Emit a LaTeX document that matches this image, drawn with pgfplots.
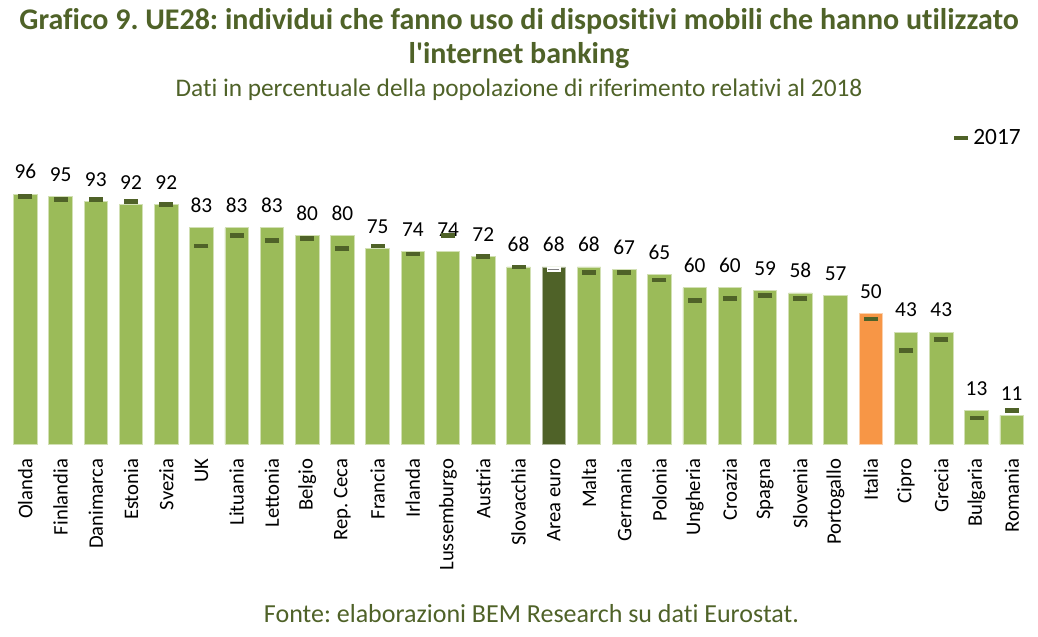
\documentclass[border=0pt]{standalone}
\usepackage{pgfplots}
\pgfplotsset{compat=1.18}
\usepackage{pgfplotstable}
\usepackage{fontspec}
\setmainfont{Carlito}[Ligatures={NoCommon,TeXOff}]
\frenchspacing
\definecolor{barg}{HTML}{9BBB59}
\definecolor{dkg}{HTML}{4F6228}
\definecolor{org}{HTML}{F79646}
\definecolor{ttl}{HTML}{4F6228}
\pgfplotstableread{
i v18 v17
0 96 95
1 95 94
2 93 94
3 92 93
4 92 92
5 83 76
6 83 80
7 83 78
8 80 79
9 80 75
10 75 76
11 74 73
12 74 80
13 72 72
14 68 68
15 68 nan
16 68 66
17 67 66
18 65 63
19 60 55
20 60 56
21 59 57
22 58 56
23 57 nan
24 50 48
25 43 36
26 43 40
27 13 10
28 11 13
}\datatab
\begin{document}
\begin{tikzpicture}
\path[use as bounding box] (0,0) rectangle (778.5pt,477pt);
\node[font=\fontsize{22.5}{26}\selectfont\bfseries, text=ttl] at (389.25pt,461pt) {Grafico 9. UE28: individui che fanno uso di dispositivi mobili che hanno utilizzato};
\node[font=\fontsize{22.5}{26}\selectfont\bfseries, text=ttl] at (389.25pt,435.5pt) {l'internet banking};
\node[font=\fontsize{19}{22}\selectfont, text=ttl] at (389.25pt,409.5pt) {Dati in percentuale della popolazione di riferimento relativi al 2018};
\node[font=\fontsize{19.5}{22}\selectfont, text=ttl] at (398.6pt,16.5pt) {Fonte: elaborazioni BEM Research su dati Eurostat.};
\begin{axis}[
  at={(5.8pt,144pt)}, anchor=south west,
  scale only axis, width=766.2pt, height=195.3pt,
  xmin=-0.5, xmax=28.5, ymin=0, ymax=100,
  clip=false,
  /pgf/number format/assume math mode=true,
  axis line style={draw=none},
  major tick length=0pt,
  ytick=\empty,
  xtick={0,...,28},
  xticklabels={Olanda,Finlandia,Danimarca,Estonia,Svezia,UK,Lituania,Lettonia,Belgio,{Rep. Ceca},Francia,Irlanda,Lussemburgo,Austria,Slovacchia,{Area euro},Malta,Germania,Polonia,Ungheria,Croazia,Spagna,Slovenia,Portogallo,Italia,Cipro,Grecia,Bulgaria,Romania},
  xticklabel style={font=\fontsize{15.5}{18}\selectfont, rotate=90, anchor=east, inner sep=0pt, xshift=-11pt},
  legend style={at={(axis cs:28.45,117.5)}, anchor=east, draw=none, fill=none, font=\fontsize{17.5}{20}\selectfont, inner sep=1pt, nodes={inner xsep=4pt}},
  legend cell align=left,
]
\addplot[ybar, bar width=17.6pt, bar shift=0pt, fill=barg, draw=white!55!barg, line width=0.6pt,
  nodes near coords, nodes near coords style={font=\fontsize{16}{18}\selectfont, anchor=south, yshift=7.6pt}, forget plot]
  table[x=i,y=v18]{\datatab};
\addplot[ybar, bar width=17.6pt, bar shift=0pt, fill=dkg, draw=white!55!dkg, line width=0.6pt, forget plot]
  coordinates {(15,68)};
\addplot[ybar, bar width=17.6pt, bar shift=0pt, fill=org, draw=white!55!org, line width=0.6pt, forget plot]
  coordinates {(24,50)};
\addplot[only marks, mark=-, mark size=5.25pt, mark options={line width=3.6pt, draw=dkg}]
  table[x=i,y=v17]{\datatab};
\addlegendentry{2017}
\addplot[only marks, mark=-, mark size=5.25pt, mark options={line width=3.6pt, draw=white}, forget plot]
  coordinates {(15,67)};
\addplot[only marks, mark=-, mark size=4.2pt, mark options={line width=0.5pt, draw=gray}, forget plot]
  coordinates {(15,67)};
\end{axis}
\end{tikzpicture}
\end{document}
